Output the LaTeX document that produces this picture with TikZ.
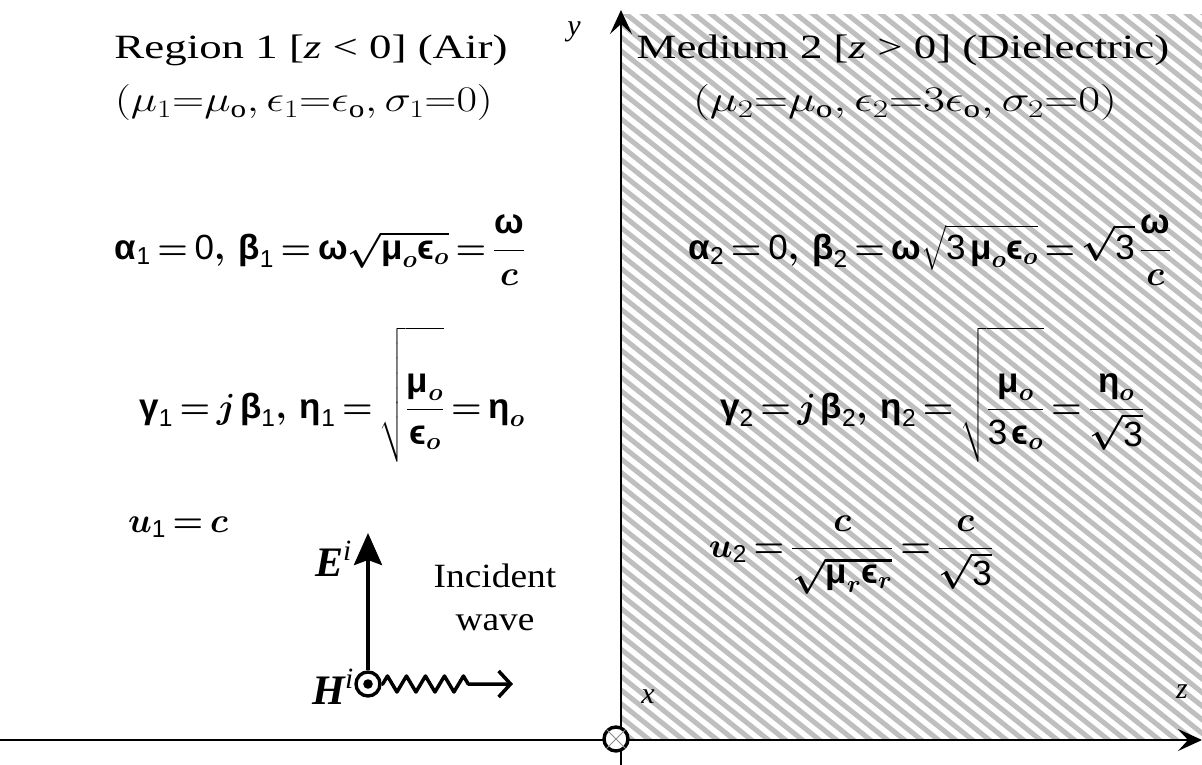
\RequirePackage{fix-cm}
\documentclass[tikz,border=0pt]{standalone}
\usepackage{amsmath}
\usepackage{graphicx}
\usepackage{fontspec}
\setmainfont{Liberation Serif}
\newfontfamily\sansgk{Liberation Sans}
\usetikzlibrary{arrows.meta,decorations.pathmorphing}
\newcommand{\widetxt}[1]{\scalebox{1.32}[1]{#1}}
\newcommand{\grk}[1]{\text{\sansgk\bfseries #1}}
\newcommand{\dgt}[1]{\text{\sansgk #1}}
\newcommand{\numstrut}{\rule{0pt}{56pt}}
\newcommand{\denstrut}{\rule[-16pt]{0pt}{16pt}}
\newcommand{\eqspacing}{\thickmuskip=3mu plus 1mu\medmuskip=2mu\thinmuskip=2mu}
\begin{document}
\begin{tikzpicture}[x=1pt,y=-1pt,
  ttl/.style={font=\fontsize{34}{40}\selectfont, inner sep=0pt},
  sub/.style={font=\fontsize{36}{40}\selectfont, inner sep=0pt},
  eqn/.style={font=\fontsize{35}{42}\selectfont\boldmath\eqspacing, inner sep=0pt},
  axlab/.style={font=\fontsize{30}{32}\selectfont\itshape, inner sep=0pt},
  vlab/.style={font=\fontsize{42}{44}\selectfont\bfseries\itshape, inner sep=0pt},
  hatchline/.style={line width=5pt, draw=black!25},
  axisline/.style={line width=1.2pt, -{Stealth[length=24pt,width=22pt,inset=10pt]}},
  ring/.style={circle, draw, line width=3.4pt, fill=white, minimum size=24pt, inner sep=0pt}
]
\useasboundingbox (0,0) rectangle (1202,765);
% hatched dielectric region
\begin{scope}
  \clip (621,15) rectangle (1202,740);
  \foreach \k in {-58,...,36} \draw[hatchline] (621+\k*17,10) -- ++(1000,800);
\end{scope}
% axes
\coordinate (ybot) at (621,765);
\coordinate (ytop) at (621,10);
\coordinate (zl) at (0,740);
\coordinate (zr) at (1202,740);
\draw[axisline] (ybot) -- (ytop);
\draw[axisline] (zl) -- (zr);
\node[ring] (O) at (616,739) {};
\draw[black!45, line width=0.9pt] (O.north west) -- (O.south east);
\draw[black!45, line width=0.9pt] (O.north east) -- (O.south west);
\node[axlab] (ylab) at (574,32) {y};
\node[axlab] (xlab) at (648,697) {x};
\node[axlab] (zlab) at (1182,692) {z};
% titles
\node[ttl] (t1) at (311,50) {\widetxt{Region 1 [\textit{z} < 0] (Air)}};
\node[sub] (s1) at (304,103) {\scalebox{1.24}[1]{$(\mu_1{=}\mu_{\mathrm o},\epsilon_1{=}\epsilon_{\mathrm o},\sigma_1{=}0)$}};
\node[ttl] (t2) at (903,50) {\widetxt{Medium 2 [\textit{z} > 0] (Dielectric)}};
\node[sub] (s2) at (905,103) {\scalebox{1.32}[1]{$(\mu_2{=}\mu_{\mathrm o},\epsilon_2{=}3\epsilon_{\mathrm o},\sigma_2{=}0)$}};
% equations region 1
\node[eqn] (e1a) at (320,250) {$\displaystyle \grk{α}_{\dgt{1}} = \dgt{0},\ \grk{β}_{\dgt{1}} = \grk{ω}\sqrt{\grk{μ}_o\grk{ϵ}_o} = \frac{\grk{ω}}{c}$};
\node[eqn] (e1b) at (332,395) {$\displaystyle \grk{γ}_{\dgt{1}} = j\,\grk{β}_{\dgt{1}},\ \grk{η}_{\dgt{1}} = \sqrt{\frac{\numstrut\grk{μ}_o}{\grk{ϵ}_o\denstrut}} = \grk{η}_o$};
\node[eqn] (e1c) at (178,527) {$u_{\dgt{1}} = c$};
% equations region 2
\node[eqn] (e2a) at (930,250) {$\displaystyle \grk{α}_{\dgt{2}} = \dgt{0},\ \grk{β}_{\dgt{2}} = \grk{ω}\sqrt{\dgt{3}\,\grk{μ}_o\grk{ϵ}_o} = \sqrt{\dgt{3}}\,\frac{\grk{ω}}{c}$};
\node[eqn] (e2b) at (932,395) {$\displaystyle \grk{γ}_{\dgt{2}} = j\,\grk{β}_{\dgt{2}},\ \grk{η}_{\dgt{2}} = \sqrt{\frac{\numstrut\grk{μ}_o}{\dgt{3}\,\grk{ϵ}_o\denstrut}} = \frac{\grk{η}_o}{\sqrt{\dgt{3}}}$};
\node[eqn] (e2c) at (851,555) {$\displaystyle u_{\dgt{2}} = \frac{c}{\sqrt{\grk{μ}_r\grk{ϵ}_r}} = \frac{c}{\sqrt{\dgt{3}}}$};
% incident wave
\node[ring] (H) at (368,684) {};
\fill (H.center) circle (4.8pt);
\coordinate (Etip) at (368,533);
\coordinate (kend) at (513,684);
\draw[line width=4pt, -{Stealth[length=32pt,width=28pt,inset=5pt]}] (H.north) -- (Etip);
\draw[line width=3.5pt, line join=round, decorate, decoration={zigzag, amplitude=8pt, segment length=19pt, pre length=1pt, post length=36pt}, -{Straight Barb[length=12pt,width=26pt]}] (H.east) -- (kend);
\node[vlab, anchor=base east] (Elab) at (352,576) {E$^{\mathit{i}}$};
\node[vlab, anchor=base east] (Hlab) at (354,704) {H$^{\mathit{i}}$};
\node[ttl, align=center, font=\fontsize{34}{43}\selectfont] (inc) at (495,597) {\scalebox{1.1}[1]{Incident}\\\scalebox{1.1}[1]{wave}};
\end{tikzpicture}
\end{document}
